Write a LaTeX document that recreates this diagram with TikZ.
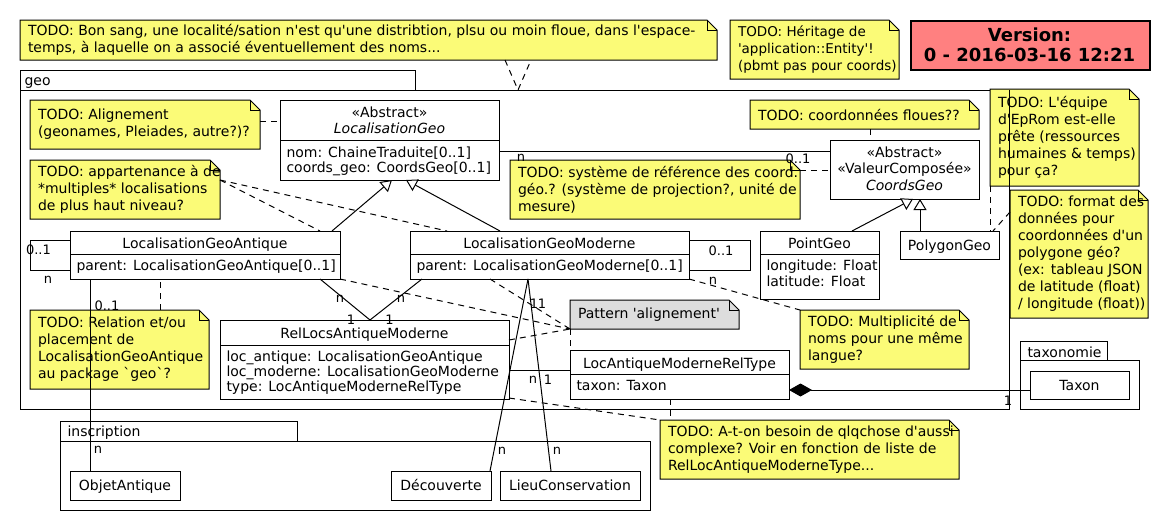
\documentclass[tikz,border=0pt]{standalone}
\usepackage{fontspec}
\newfontfamily\umlfont{DejaVu Sans}
\usetikzlibrary{arrows.meta,calc}
\definecolor{notefill}{HTML}{FBFB77}
\definecolor{patfill}{HTML}{DDDDDD}
\definecolor{verfill}{HTML}{FF8080}
\newcommand\umlnote[7][notefill]{%
  \filldraw[notebord,fill=#1] (#3,#4) -- (#3+#5-10,#4) -- (#3+#5,#4+10) -- (#3+#5,#4+#6) -- (#3,#4+#6) -- cycle;
  \draw[notebord] (#3+#5-10,#4) -- (#3+#5-10,#4+10) -- (#3+#5,#4+10);
  \node[anchor=north west,minimum width=#5pt,minimum height=#6pt,inner sep=0pt,outer sep=0pt] (#2) at (#3,#4) {};
  \node[notetext,anchor=west] (#2-t) at (#3+8,#4+#6/2) {#7};
}
\begin{document}
\begin{tikzpicture}[x=1pt,y=-1pt,line width=1pt,
  notebord/.style={draw=black,line width=1pt,line join=miter},
  notetext/.style={font=\umlfont\fontsize{14}{17}\selectfont,align=left,inner sep=0pt,outer sep=0pt},
  clsbox/.style={draw=black,fill=white,line width=1pt,anchor=north west,inner sep=0pt,outer sep=0pt},
  pkgbox/.style={draw=black,line width=1pt,anchor=north west,inner sep=0pt,outer sep=0pt},
  ctitle/.style={font=\umlfont\fontsize{14}{16}\selectfont,inner sep=0pt,anchor=base},
  cattr/.style={font=\umlfont\fontsize{14}{16}\selectfont,inner sep=0pt,anchor=base west},
  mult/.style={font=\umlfont\fontsize{13}{15}\selectfont,inner sep=0pt,anchor=base},
  vtext/.style={font=\umlfont\bfseries\fontsize{18}{21}\selectfont,inner sep=0pt,anchor=base},
  assoc/.style={draw=black,line width=1pt},
  dashc/.style={draw=black,line width=1pt,dash pattern=on 6pt off 5pt},
  gen/.style={assoc,-{Triangle[length=11pt,width=13pt,fill=white]}},
  comp/.style={assoc,{Diamond[length=23pt,width=13pt]}-},
]
\useasboundingbox (0,0) rectangle (1170,530);

% packages
\node[pkgbox,minimum width=395pt,minimum height=20pt] (geotab) at (20,70) {};
\node[pkgbox,minimum width=989pt,minimum height=319pt] (geo) at (20,90) {};
\node[cattr] (geo-l) at (24,85.5) {geo};
\node[pkgbox,minimum width=237pt,minimum height=20pt] (instab) at (60,421) {};
\node[pkgbox,minimum width=590pt,minimum height=69pt] (ins) at (60,441) {};
\node[cattr] (ins-l) at (67,436) {inscription};
\node[pkgbox,minimum width=87pt,minimum height=19pt] (taxtab) at (1020,341) {};
\node[pkgbox,minimum width=119pt,minimum height=49pt] (taxp) at (1020,360) {};
\node[cattr] (taxp-l) at (1027,357.5) {taxonomie};

% notes
\umlnote{nbon}{20}{20}{697}{40}{TODO: Bon sang, une localité/sation n'est qu'une distribtion, plsu ou moin floue, dans l'espace-\\temps, à laquelle on a associé éventuellement des noms...}
\umlnote{nher}{730}{20}{169}{59}{\fontsize{13.5}{17}\selectfont TODO: Héritage de\\\fontsize{13.5}{17}\selectfont 'application::Entity'!\\\fontsize{13.5}{17}\selectfont (pbmt pas pour coords)}
\umlnote{nalign}{30}{100}{230}{49}{TODO: Alignement\\(geonames, Pleiades, autre?)?}
\umlnote{nfloues}{750}{100}{229}{29}{TODO: coordonnées floues??}
\umlnote{nequipe}{990}{89}{149}{97}{TODO: L'équipe\\d'EpRom est-elle\\prête (ressources\\humaines \& temps)\\pour ça?}
\umlnote{nsys}{510}{160}{290}{59}{TODO: système de référence des coord.\\géo.? (système de projection?, unité de\\mesure)}
\umlnote{nappart}{30}{160}{190}{59}{TODO: appartenance à de\\*multiples* localisations\\de plus haut niveau?}
\umlnote{nformat}{1010}{190}{138}{128}{TODO: format des\\données pour\\coordonnées d'un\\polygone géo?\\(ex: tableau JSON\\de latitude (float)\\/ longitude (float))}
\umlnote[patfill]{npat}{570}{300}{169}{29}{Pattern 'alignement'}
\umlnote{nmulti}{800}{310}{169}{59}{TODO: Multiplicité de\\noms pour une même\\langue?}
\umlnote{nrel}{30}{310}{179}{79}{TODO: Relation et/ou\\placement de\\LocalisationGeoAntique\\au package `geo`?}
\umlnote{natone}{660}{420}{299}{59}{TODO: A-t-on besoin de qlqchose d'aussi\\complexe? Voir en fonction de liste de\\RelLocAntiqueModerneType...}

% version
\node[draw=black,fill=verfill,line width=1.5pt,anchor=north west,minimum width=239pt,minimum height=49pt,inner sep=0pt] (ver) at (910,20) {};
\node[vtext] (ver-1) at (1029.5,41.5) {Version:};
\node[vtext] (ver-2) at (1029.5,61.5) {0 - 2016-03-16 12:21};

% classes
\node[clsbox,minimum width=219pt,minimum height=80pt] (lg) at (280,100) {};
\draw (lg.west |- 0,140) -- (lg.east |- 0,140);
\node[ctitle] (lg-s) at (389.5,117.5) {«Abstract»};
\node[ctitle] (lg-n) at (389.5,133.5) {\itshape LocalisationGeo};
\node[cattr] (lg-a1) at (286,157) {nom: ChaineTraduite[0..1]};
\node[cattr] (lg-a2) at (286,172.5) {coords\_geo: CoordsGeo[0..1]};

\node[clsbox,minimum width=149pt,minimum height=59pt] (cg) at (830,140) {};
\node[ctitle] (cg-s1) at (904.5,157) {«Abstract»};
\node[ctitle] (cg-s2) at (904.5,173.5) {«ValeurComposée»};
\node[ctitle] (cg-n) at (904.5,190) {\itshape CoordsGeo};

\node[clsbox,minimum width=270pt,minimum height=48pt] (lga) at (70,231) {};
\draw (lga.west |- 0,254.5) -- (lga.east |- 0,254.5);
\node[ctitle] (lga-n) at (205,248) {LocalisationGeoAntique};
\node[cattr] (lga-a1) at (76,270) {parent: LocalisationGeoAntique[0..1]};

\node[clsbox,minimum width=279pt,minimum height=48pt] (lgm) at (410,231) {};
\draw (lgm.west |- 0,254.5) -- (lgm.east |- 0,254.5);
\node[ctitle] (lgm-n) at (549.5,248) {LocalisationGeoModerne};
\node[cattr] (lgm-a1) at (416,270) {parent: LocalisationGeoModerne[0..1]};

\node[clsbox,minimum width=119pt,minimum height=68pt] (pg) at (760,231) {};
\draw (pg.west |- 0,254) -- (pg.east |- 0,254);
\node[ctitle] (pg-n) at (819.5,248) {PointGeo};
\node[cattr] (pg-a1) at (766,270) {longitude: Float};
\node[cattr] (pg-a2) at (766,286) {latitude: Float};

\node[clsbox,minimum width=99pt,minimum height=28pt] (pol) at (900,231) {};
\node[ctitle] (pol-n) at (949.5,250) {PolygonGeo};

\node[clsbox,minimum width=289pt,minimum height=79pt] (rel) at (220,320) {};
\draw (rel.west |- 0,345) -- (rel.east |- 0,345);
\node[ctitle] (rel-n) at (364.5,338) {RelLocsAntiqueModerne};
\node[cattr] (rel-a1) at (226,361) {loc\_antique: LocalisationGeoAntique};
\node[cattr] (rel-a2) at (226,376) {loc\_moderne: LocalisationGeoModerne};
\node[cattr] (rel-a3) at (226,391) {type: LocAntiqueModerneRelType};

\node[clsbox,minimum width=219pt,minimum height=49pt] (lrt) at (570,350) {};
\draw (lrt.west |- 0,374) -- (lrt.east |- 0,374);
\node[ctitle] (lrt-n) at (679.5,368) {LocAntiqueModerneRelType};
\node[cattr] (lrt-a1) at (576,390) {taxon: Taxon};

\node[clsbox,minimum width=99pt,minimum height=28pt] (tax) at (1030,371) {};
\node[ctitle] (tax-n) at (1079.5,390) {Taxon};

\node[clsbox,minimum width=110pt,minimum height=29pt] (oa) at (70,471) {};
\node[ctitle] (oa-n) at (125,490) {ObjetAntique};
\node[clsbox,minimum width=100pt,minimum height=29pt] (dec) at (391,471) {};
\node[ctitle] (dec-n) at (441,490) {Découverte};
\node[clsbox,minimum width=140pt,minimum height=29pt] (lc) at (500,471) {};
\node[ctitle] (lc-n) at (570,490) {LieuConservation};

% connectors
\draw[dashc] (nbon.south -| 505,0) -- (geo.north -| 518,0) -- (nbon.south -| 531,0);
\draw[dashc] (nalign.east |- 0,121) -- (lg.west |- 0,121);
\draw[assoc] (lg.east |- 0,151) -- (cg.west |- 0,151);
\draw[dashc] (nsys.east |- 0,170) -- (cg.west |- 0,170);
\draw[dashc] (nfloues.south -| 870,0) -- (cg.north -| 870,0);
\draw[dashc] (nappart.east |- 0,180) -- (lga.north -| 320,0);
\draw[dashc] (nappart.east |- 0,180) -- (lgm.north -| 447,0);
\draw[gen] (lga.north -| 332,0) -- (lg.south -| 392,0);
\draw[gen] (lgm.north -| 500,0) -- (lg.south -| 406,0);
\draw[assoc] (lga.west |- 0,240) -- ++(-40,0) -- ++(0,30) -- (lga.west |- 0,270);
\draw[assoc] (lgm.east |- 0,240) -- ++(61,0) -- ++(0,30) -- (lgm.east |- 0,270);
\draw[assoc] (lga.south -| 320,0) -- (rel.north -| 370,0);
\draw[assoc] (lgm.south -| 422,0) -- (rel.north -| 370,0);
\draw[dashc] (nrel.north -| 160,0) -- (lga.south -| 160,0);
\draw[assoc] (lga.south -| 90,0) -- (oa.north -| 90,0);
\draw[assoc] (lgm.south -| 528,0) -- (dec.north -| 490,0);
\draw[assoc] (lgm.south -| 528,0) -- (lc.north -| 551,0);
\draw[dashc] (lga.south -| 340,0) -- (npat.south west);
\draw[dashc] (lgm.south -| 490,0) -- (npat.south west);
\draw[dashc] (rel.east |- 0,340) -- (npat.south west);
\draw[dashc] (npat.south west) -- (lrt.north west);
\draw[assoc] (rel.east |- 0,370) -- (lrt.west |- 0,370);
\draw[comp] (lrt.east |- 0,390) -- (tax.west |- 0,390);
\draw[dashc] (lrt.south -| 670,0) -- (natone.north -| 670,0);
\draw[dashc] (rel.east |- 0,398) -- (natone.north west);
\draw[dashc] (lgm.south east) -- (nmulti.north west);
\draw[gen] (pg.north -| 852,0) -- (cg.south -| 913,0);
\draw[gen] (pol.north -| 920,0) -- (cg.south -| 920,0);
\draw[dashc] (nequipe.south -| 990,0) -- (pol.north -| 990,0);
\draw[dashc] (nformat.west |- 0,212) -- (pol.north -| 993,0);

% multiplicities
\node[mult] (m1) at (521,161.5) {n};
\node[mult] (m2) at (798,163.5) {0..1};
\node[mult] (m3) at (38.5,254) {0..1};
\node[mult] (m4) at (48,283) {n};
\node[mult] (m5) at (721,255) {0..1};
\node[mult] (m6) at (713,284) {n};
\node[mult] (m7) at (340,302) {n};
\node[mult] (m8) at (351,324) {1};
\node[mult] (m9) at (401,302) {n};
\node[mult] (m10) at (389.5,324) {1};
\node[mult] (m11) at (107,310) {0..1};
\node[mult] (m12) at (98,453) {n};
\node[mult] (m13) at (534,308) {1};
\node[mult] (m14) at (542,308) {1};
\node[mult] (m15) at (502,454) {n};
\node[mult] (m16) at (557,454) {n};
\node[mult] (m17) at (533,383.5) {n};
\node[mult] (m18) at (548,384.5) {1};
\node[mult] (m19) at (1008,405) {1};

% package border over note
\draw (geo.north east) -- (geo.south east);
\end{tikzpicture}
\end{document}
